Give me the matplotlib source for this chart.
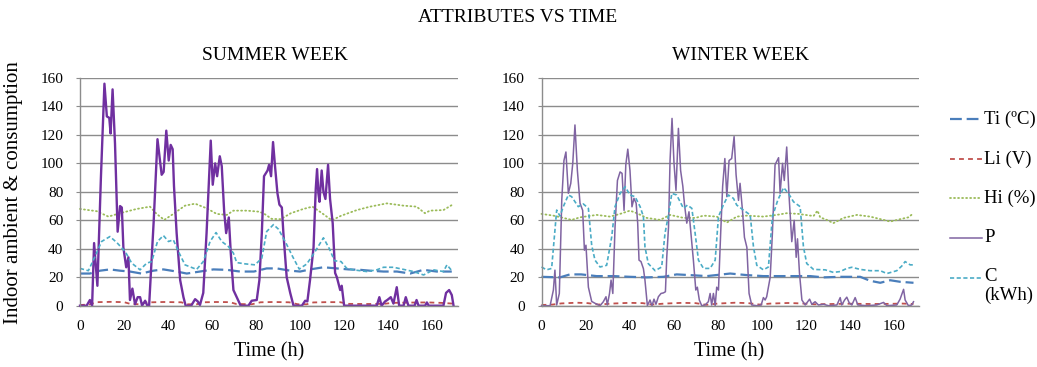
import matplotlib
matplotlib.use("Agg")
import matplotlib.pyplot as plt
from matplotlib.lines import Line2D

plt.rcParams['font.family'] = ['Liberation Serif', 'DejaVu Serif']
plt.rcParams['lines.scale_dashes'] = False

# ---------------- summer week ----------------
summer_ti_t = [0, 4.5, 9.1, 13.6, 18.2, 22.7, 27.9, 33.3, 37.9, 43.9,
               48.5, 54.5, 60.6, 66.7, 72.7, 79, 84.8, 89.4, 95.5, 100,
               104.5, 110.6, 116.7, 122, 127.3, 131.8, 137.9, 144, 150, 156,
               162.1, 168.9]
summer_ti = [22.6, 22.6, 24.6, 25.5, 24.6, 24, 22.6, 24.6, 25.5, 24,
             22.6, 24, 25.5, 25.2, 24, 24, 26.2, 26.2, 24.6, 24,
             25.5, 27, 26.2, 25.5, 25.2, 24.6, 24, 24, 22.6, 25.2,
             24, 24]

summer_li_t = [0, 4, 8, 14, 20, 23, 27, 30, 38, 46,
               49, 53, 56, 62, 68, 71, 78, 82, 88, 95,
               99, 103, 106, 112, 118, 122, 130, 138, 142, 150,
               158, 164, 169]
summer_li = [0.5, 0.8, 2.5, 2.7, 2.5, 1.2, 1, 2.3, 2.6, 2.4,
             1, 1, 2.4, 2.6, 2.5, 1.2, 1, 2.4, 2.6, 2.4,
             1, 1, 2.3, 2.5, 2.5, 1.3, 1.2, 1.3, 2, 2.2,
             2.3, 2, 1.5]

summer_hi_t = [0, 7.6, 12.9, 18.2, 25.8, 31.8, 34.8, 38.3, 42.4, 47.7,
               52.3, 57.6, 62.1, 66.7, 69.7, 75.8, 81.1, 83.3, 87.1, 91.2,
               95.8, 101.5, 105.6, 109.5, 114.4, 118.6, 125.8, 131.8, 139.4, 147,
               152.9, 156.7, 159, 165.1, 168.9]
summer_hi = [68, 66.4, 62.6, 65, 68, 69.6, 64.5, 60.3, 64.5, 70.3,
             71.7, 68.4, 64.5, 63.8, 66.8, 66.8, 66.1, 65, 61, 60.8,
             65, 68, 69.6, 65.5, 60, 63.2, 67.2, 69.6, 71.9, 70.3,
             69.6, 65, 66.8, 67.2, 70.7]

summer_p_t = [0, 3, 4.5, 5.5, 6.4, 7.9, 9.5, 11.1, 12.2, 13.3,
              13.9, 14.8, 15.9, 17.1, 18.2, 19, 19.7, 21, 22, 22.7,
              23.8, 25, 26.2, 27.3, 28.2, 29.6, 30.6, 31.4, 33.5, 35.2,
              37.1, 38, 39.2, 40.3, 41.2, 42.1, 42.7, 43.9, 45.5, 47,
              48, 50.5, 52.3, 53.5, 54.5, 56, 57.5, 59.4, 60.3, 61.4,
              62.3, 63.5, 64.4, 65.5, 66.4, 67.6, 68.5, 69.7, 71.2, 73,
              76.5, 78, 80.3, 81.5, 82.6, 83.6, 85.2, 85.9, 86.8, 87.7,
              88.6, 89.7, 90.6, 91.7, 92.4, 93.9, 95.5, 97, 100.8, 102.3,
              103.3, 104.5, 106.1, 107.1, 107.7, 108.3, 108.8, 109.8, 110.6, 111.5,
              112.7, 113.6, 114.8, 115.9, 116.7, 118.2, 118.9, 120, 134.8, 136,
              137, 138.6, 139.6, 141.2, 142.4, 143.9, 145, 147, 148, 149.2,
              152, 152.9, 153.8, 156.8, 157.6, 158.4, 165.1, 166.3, 167.7, 168.9,
              169.7]
summer_p = [0, 0, 4, 0, 44, 14, 90, 156, 133, 132,
            121, 152, 114, 52, 70, 69, 41, 27, 34, 4,
            12, 1, 6, 6, 0, 3.5, 0, 0, 60, 117,
            92, 94, 123, 102, 113, 110, 84, 51, 18, 6,
            0, 0, 4.6, 3, 0.5, 9, 51, 116, 85, 100,
            91, 105, 98, 66, 51, 62, 37, 11, 6, 0,
            0, 3.5, 4, 18, 51, 91, 95, 99, 91, 115,
            98, 79, 71, 69, 51, 20, 9, 0, 0, 3.5,
            3, 18, 41, 82, 96, 79, 73, 95, 80, 75,
            99, 75, 58, 23, 20, 11, 14, 0, 0, 6,
            0, 3, 4, 6, 1.5, 13, 0, 0, 6, 0,
            0, 4, 0, 0, 2.3, 0, 0, 9, 11, 7.5,
            0]

summer_c_t = [0, 3.8, 6.8, 9.8, 13.6, 16.7, 20.5, 23.5, 27.3, 30.3,
              32.6, 35.2, 37.9, 40.2, 42.4, 44.7, 47.7, 53, 56, 59.1,
              61.8, 64.4, 67.4, 69.7, 71.2, 75, 79.5, 82.6, 84.8, 87.9,
              90.2, 93.9, 96.6, 99.6, 103, 106.4, 110.6, 113.3, 115.6, 118.6,
              121.2, 124.2, 130.3, 134.8, 137.9, 142.4, 147, 151.5, 156.1, 160.6,
              165.1, 166.7, 168.9]
summer_c = [26.2, 24.6, 34.5, 45.1, 48.6, 44.4, 38.1, 29.9, 25.2, 29.9,
            31, 45.1, 49.3, 45.1, 46.3, 38.1, 28.7, 25.5, 31, 45.1,
            51.4, 45.1, 41.6, 36.9, 30.3, 29.4, 28.7, 33.4, 52.1, 57,
            53.7, 43, 34.5, 25.7, 29.3, 37, 47.7, 40, 31.6, 31,
            26.2, 25.2, 24, 25.2, 27, 27, 25.5, 24, 21.6, 25.2,
            24, 28.7, 24.6]

# ---------------- winter week ----------------
winter_ti_t = [0, 8.4, 12.9, 18, 25, 32.6, 40.2, 47.8, 55.4, 61.4,
               67.5, 75.1, 85.7, 93.3, 100.8, 109.9, 114.5, 122.1, 128.1, 135.7,
               144.8, 149.3, 153.9, 158.4, 162.9, 169]
winter_ti = [20.3, 19.9, 22, 22, 20.8, 20.8, 20.3, 19.9, 20.3, 22,
             21.5, 20.8, 22.6, 21.5, 20.8, 20.8, 20.8, 20.8, 19.9, 20.3,
             20.3, 17.5, 16.1, 17.9, 16.8, 16.1]

winter_li_t = [0, 5, 9, 16, 21, 26, 32, 40, 46, 50,
               56, 64, 70, 75, 80, 88, 94, 99, 104, 112,
               118, 124, 132, 140, 150, 158, 164, 169]
winter_li = [0.5, 0.8, 1.6, 2.1, 1.8, 0.8, 1.5, 2, 1.8, 0.8,
             1.5, 2, 1.8, 0.6, 1.5, 2.1, 1.8, 0.8, 1.5, 1.9,
             1.6, 1, 1.2, 1.4, 1.2, 1.3, 1.5, 1.2]

winter_hi_t = [0, 5.4, 9.9, 13.7, 17.5, 25.1, 31.1, 35.7, 40.2, 43.3,
               47.8, 53.9, 58.4, 64.5, 70, 73.6, 79.6, 84.2, 88.7, 93.3,
               100.8, 106.8, 111.4, 116.7, 123.6, 125.4, 126.6, 129.6, 132.6, 137.2,
               143.3, 149.3, 155.4, 158.4, 162.9, 166.7, 169]
winter_hi = [64.5, 63.3, 61.7, 60.3, 62.1, 63.8, 62.6, 64.5, 66.8, 65,
             61.7, 60.3, 63.8, 61.7, 61.7, 63.3, 62.6, 58.4, 62.6, 63.3,
             62.6, 63.8, 65, 64.5, 63, 66.8, 62.1, 60.3, 58, 61.7,
             63.8, 62.6, 60.3, 59.1, 60.8, 62.1, 65]

winter_p_t = [0, 3.9, 5.4, 6.1, 6.9, 8.1, 9.2, 10.2, 11.1, 12.2,
              13.3, 14.2, 15.2, 16.3, 17.5, 18.7, 19.5, 20.2, 21.3, 22.8,
              24.3, 26.6, 28.1, 29.3, 29.9, 30.9, 31.6, 32.4, 33.4, 34.5,
              35.7, 36.6, 37.5, 38.3, 39.2, 40.2, 41.1, 42, 43, 43.7,
              44.3, 45.2, 46.3, 47, 48.1, 49.3, 50.2, 51.1, 52, 53.1,
              54.3, 55.4, 56.3, 56.9, 57.7, 58.4, 59.3, 60.2, 61.1, 62.2,
              63.2, 64.2, 64.9, 66, 67, 67.9, 69, 70.1, 70.8, 71.7,
              72.8, 74.3, 75.8, 76.6, 77.3, 78.1, 78.9, 79.6, 80.4, 81.4,
              82.3, 83.3, 84.2, 85.2, 86.4, 87.5, 88.4, 89.5, 90.2, 91.3,
              92.2, 93.3, 94.3, 95.5, 97.8, 99.8, 100.8, 101.6, 102.3, 103.9,
              104.9, 106.1, 107.7, 108.4, 109.5, 110.3, 111.4, 112.4, 113.7, 114.8,
              115.7, 116.3, 117.2, 118.3, 119.8, 121.8, 122.8, 124.3, 125.8, 128.1,
              130.4, 134.2, 135.7, 136.4, 137.7, 138.7, 139.8, 141, 142.5, 143.7,
              147.8, 152.3, 155.4, 156.9, 161.4, 162.9, 164.5, 165.2, 166.7, 168.2,
              169]
winter_p = [0, 0, 11, 25, 0.5, 8.6, 74, 102, 108, 79,
            86, 100, 127, 95, 72, 67, 39, 42.5, 13, 3,
            1.7, 0, 2.8, 6.3, 0.5, 8.6, 18, 8.6, 55, 88,
            94, 93, 67, 99, 110, 95, 69.5, 75.4, 72, 58,
            32, 31, 26, 18, 0, 4, 0, 4.6, 1, 6.3,
            8.6, 9, 9.8, 34, 55, 102, 131.6, 100, 81, 124.6,
            95, 84, 72, 58, 66, 51, 32, 11, 13, 4,
            0, 0.5, 2.8, 8.6, 0.5, 8.6, 0, 13, 11, 51,
            84, 103.4, 76.6, 102, 103.4, 118.8, 92, 74, 86, 67,
            48, 41, 8.6, 0.5, 0, 0.5, 5.7, 4, 6.3, 20,
            51, 99, 104, 79, 100, 88, 111.5, 79, 45, 60,
            34, 47, 23, 4, 0.5, 4.6, 1, 2.8, 0.5, 1,
            0, 0.5, 5.7, 0.5, 4, 6, 2, 0.5, 5.7, 0.5,
            0, 0.5, 2.3, 0, 0.5, 4.6, 11.5, 4, 0, 0.5,
            2.8]

winter_c_t = [0, 2.3, 4.6, 6.9, 8.4, 9.9, 12.2, 13.7, 16.7, 19,
              21.3, 22.8, 24.3, 26.6, 29.6, 31.9, 33.4, 35.7, 38, 40.2,
              42.5, 44.8, 46.3, 47, 48.5, 51.6, 54.6, 56.1, 57.7, 59.2,
              61.4, 64.5, 66.3, 68.3, 69.8, 71.3, 73.6, 76.6, 78.9, 80.4,
              82.6, 84.9, 87.2, 88.7, 91.7, 94.8, 96.3, 97.8, 100.8, 103.1,
              104.9, 107.3, 110, 112.2, 114.5, 117.5, 119, 120.5, 123.6, 128.9,
              132.6, 135.7, 138.7, 141, 144.8, 149.3, 153.9, 156.9, 161.4, 163.7,
              165.2, 167.5, 169]
winter_c = [27.2, 25.2, 26.2, 67.2, 63, 69.6, 77.8, 76.6, 69.6, 71.5,
            68.4, 42.5, 32, 27.2, 28.4, 48.4, 69.6, 78.9, 83.6, 77.8,
            76.6, 69.6, 62.6, 41.4, 29.6, 24.6, 27.2, 50.8, 63.8, 78.9,
            77.8, 68.4, 70.7, 68.4, 50.8, 32, 26.2, 26.2, 32, 62.6,
            70.7, 77.8, 75.4, 70.7, 67.2, 63.8, 41.4, 28.4, 25.2, 27.2,
            62.6, 74, 83, 78.9, 73, 69.6, 41.4, 29.6, 25.5, 25.2,
            23.4, 24, 26.2, 27, 25.5, 24.6, 24.6, 22.6, 24.6, 27.9,
            31, 28.7, 28.7]

x_ticks = [0, 20, 40, 60, 80, 100, 120, 140, 160]
y_ticks = [0, 20, 40, 60, 80, 100, 120, 140, 160]
legend_labels = ['Ti (ºC)', 'Li (V)', 'Hi (%)', 'P', 'C\n(kWh)']

TI = dict(color='#4a7ebb', lw=1.6, dashes=(8.5, 3.5))
LI = dict(color='#c0504d', lw=1.3, dashes=(3.5, 3))
HI = dict(color='#9bbb59', lw=1.3, dashes=(0.7, 2.2), dash_capstyle='round')
C = dict(color='#4bacc6', lw=1.2, dashes=(3, 1.8))
GRID = '#8c8c8c'

W, H = 1037, 367
fig = plt.figure(figsize=(W / 100, H / 100), dpi=100)


def draw_week(ax, ti_t, ti, li_t, li, hi_t, hi, p_t, p, c_t, c, p_style):
    ax.plot(ti_t, ti, clip_on=False, **TI)
    ax.plot(li_t, li, clip_on=False, **LI)
    ax.plot(hi_t, hi, clip_on=False, **HI)
    ax.plot(p_t, p, clip_on=False, **p_style)
    ax.plot(c_t, c, clip_on=False, **C)
    ax.set_xlim(0, 171.5)
    ax.set_ylim(0, 160)
    ax.set_xticks(x_ticks)
    ax.set_yticks(y_ticks)
    ax.grid(axis='y', color=GRID, lw=1.0)
    ax.set_axisbelow(True)
    for s in ('top', 'right'):
        ax.spines[s].set_visible(False)
    for s in ('left', 'bottom'):
        ax.spines[s].set_color(GRID)
        ax.spines[s].set_linewidth(1.0)
    ax.tick_params(axis='x', length=0, pad=10, labelsize=11)
    ax.tick_params(axis='y', length=3, color=GRID, pad=9, labelsize=11)


ax1 = fig.add_axes([80 / W, 1 - 305.7 / H, 377.5 / W, 227.7 / H])
ax2 = fig.add_axes([541.5 / W, 1 - 305.7 / H, 377.5 / W, 227.7 / H])

P_SUMMER = dict(color='#7030a0', lw=1.7)
P_WINTER = dict(color='#8064a2', lw=1.1)

draw_week(ax1, summer_ti_t, summer_ti, summer_li_t, summer_li, summer_hi_t, summer_hi,
          summer_p_t, summer_p, summer_c_t, summer_c, P_SUMMER)
draw_week(ax2, winter_ti_t, winter_ti, winter_li_t, winter_li, winter_hi_t, winter_hi,
          winter_p_t, winter_p, winter_c_t, winter_c, P_WINTER)

# titles and axis labels
fig.text(518 / W, 1 - 17 / H, 'ATTRIBUTES VS TIME', ha='center', va='center', fontsize=14)
fig.text(275 / W, 1 - 55 / H, 'SUMMER WEEK', ha='center', va='center', fontsize=14)
fig.text(740 / W, 1 - 55 / H, 'WINTER WEEK', ha='center', va='center', fontsize=14)
fig.text(268.7 / W, 1 - 352 / H, 'Time (h)', ha='center', va='center', fontsize=14.5)
fig.text(729 / W, 1 - 352 / H, 'Time (h)', ha='center', va='center', fontsize=14.5)
fig.text(14 / W, 1 - 193 / H, 'Indoor ambient & consumption', ha='center', va='center',
         rotation=90, fontsize=15)

# legend on the right
legend_styles = [TI, LI, HI, P_WINTER, C]
legend_y = [119, 159, 198, 238, 278]
for lab, st, y in zip(legend_labels, legend_styles, legend_y):
    kw = {k: v for k, v in st.items() if k != 'lw'}
    fig.add_artist(Line2D([950 / W, 982 / W], [1 - y / H] * 2, transform=fig.transFigure,
                          lw=st['lw'], **kw))
    multi = '\n' in lab
    fig.text(984 / W, 1 - (y - 10) / H if multi else 1 - y / H, lab, ha='left',
             va='top' if multi else 'center', fontsize=13.5, linespacing=1.15,
             transform=fig.transFigure)

fig.savefig('out.png', dpi=100)
